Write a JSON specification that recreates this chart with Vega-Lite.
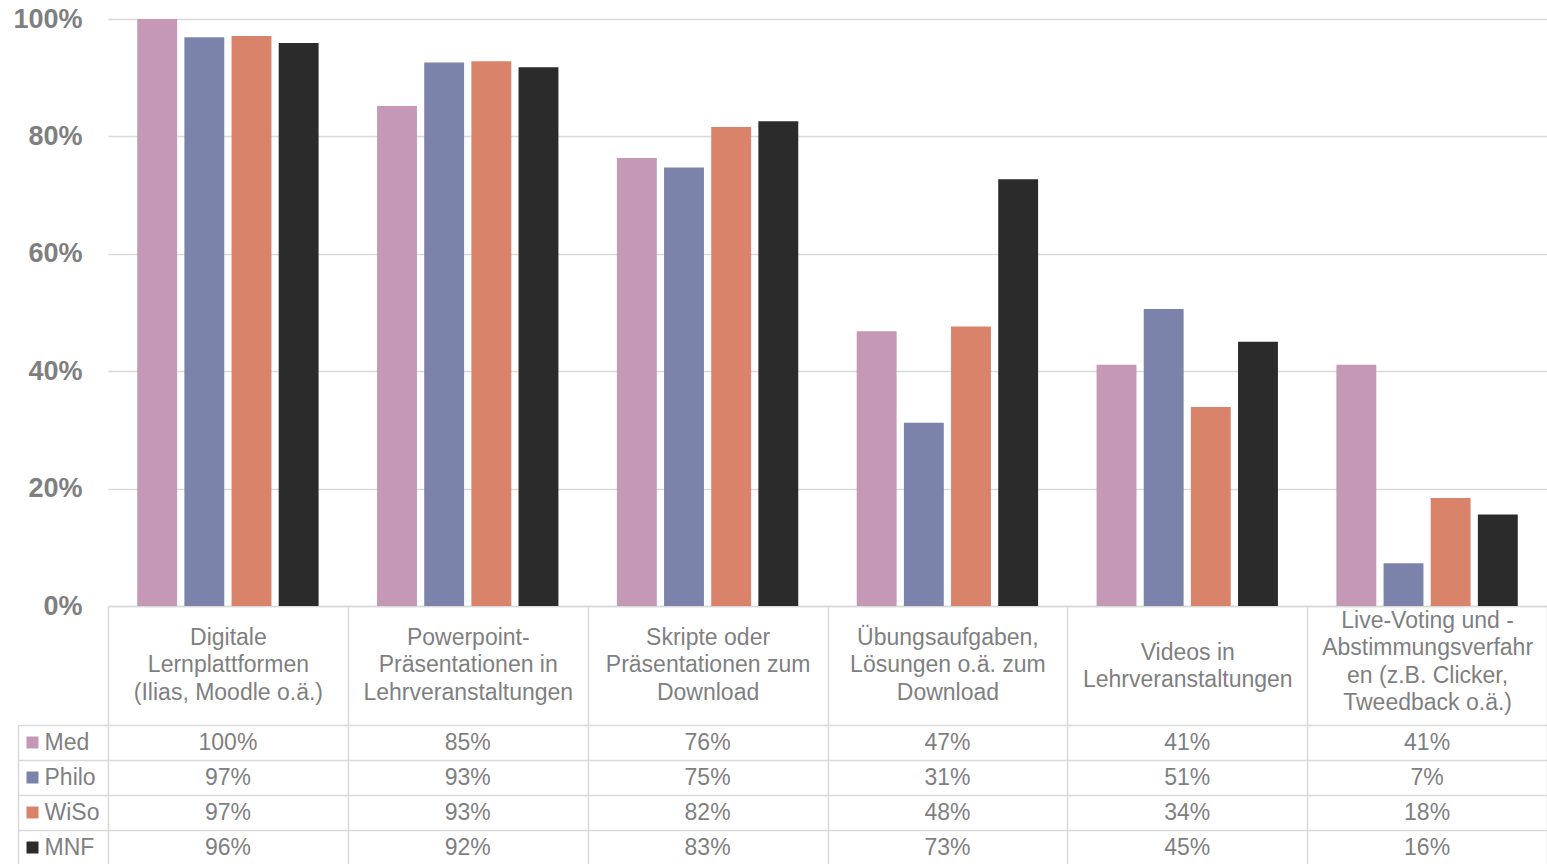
{
  "$schema": "https://vega.github.io/schema/vega-lite/v6.json",
  "padding": {"left": 12, "top": 5, "right": 0, "bottom": 0},
  "config": {
    "font": "Liberation Sans",
    "view": {"stroke": null},
    "axis": {"gridColor": "#d9d9d9", "gridWidth": 1.5, "domainColor": "#d9d9d9", "tickColor": "#d9d9d9", "domainWidth": 1.5, "tickWidth": 1.5}
  },
  "data": {
    "values": [
      {"cat": "Digitale\nLernplattformen\n(Ilias, Moodle o.ä.)", "series": "Med", "value": 1.0},
      {"cat": "Digitale\nLernplattformen\n(Ilias, Moodle o.ä.)", "series": "Philo", "value": 0.969},
      {"cat": "Digitale\nLernplattformen\n(Ilias, Moodle o.ä.)", "series": "WiSo", "value": 0.971},
      {"cat": "Digitale\nLernplattformen\n(Ilias, Moodle o.ä.)", "series": "MNF", "value": 0.959},
      {"cat": "Powerpoint-\nPräsentationen in\nLehrveranstaltungen", "series": "Med", "value": 0.852},
      {"cat": "Powerpoint-\nPräsentationen in\nLehrveranstaltungen", "series": "Philo", "value": 0.926},
      {"cat": "Powerpoint-\nPräsentationen in\nLehrveranstaltungen", "series": "WiSo", "value": 0.928},
      {"cat": "Powerpoint-\nPräsentationen in\nLehrveranstaltungen", "series": "MNF", "value": 0.918},
      {"cat": "Skripte oder\nPräsentationen zum\nDownload", "series": "Med", "value": 0.763},
      {"cat": "Skripte oder\nPräsentationen zum\nDownload", "series": "Philo", "value": 0.747},
      {"cat": "Skripte oder\nPräsentationen zum\nDownload", "series": "WiSo", "value": 0.816},
      {"cat": "Skripte oder\nPräsentationen zum\nDownload", "series": "MNF", "value": 0.826},
      {"cat": "Übungsaufgaben,\nLösungen o.ä. zum\nDownload", "series": "Med", "value": 0.468},
      {"cat": "Übungsaufgaben,\nLösungen o.ä. zum\nDownload", "series": "Philo", "value": 0.312},
      {"cat": "Übungsaufgaben,\nLösungen o.ä. zum\nDownload", "series": "WiSo", "value": 0.476},
      {"cat": "Übungsaufgaben,\nLösungen o.ä. zum\nDownload", "series": "MNF", "value": 0.727},
      {"cat": "Videos in\nLehrveranstaltungen", "series": "Med", "value": 0.411},
      {"cat": "Videos in\nLehrveranstaltungen", "series": "Philo", "value": 0.506},
      {"cat": "Videos in\nLehrveranstaltungen", "series": "WiSo", "value": 0.339},
      {"cat": "Videos in\nLehrveranstaltungen", "series": "MNF", "value": 0.45},
      {"cat": "Live-Voting und -\nAbstimmungsverfahr\nen (z.B. Clicker,\nTweedback o.ä.)", "series": "Med", "value": 0.411},
      {"cat": "Live-Voting und -\nAbstimmungsverfahr\nen (z.B. Clicker,\nTweedback o.ä.)", "series": "Philo", "value": 0.073},
      {"cat": "Live-Voting und -\nAbstimmungsverfahr\nen (z.B. Clicker,\nTweedback o.ä.)", "series": "WiSo", "value": 0.184},
      {"cat": "Live-Voting und -\nAbstimmungsverfahr\nen (z.B. Clicker,\nTweedback o.ä.)", "series": "MNF", "value": 0.156}
    ]
  },
  "bounds": "flush",
  "spacing": 119,
  "resolve": {"scale": {"x": "independent", "y": "independent", "color": "shared"}},
  "vconcat": [
    {
      "width": 1439,
      "height": 587,
      "mark": {"type": "bar"},
      "encoding": {
        "x": {
          "field": "cat", "type": "nominal",
          "scale": {
            "domain": [
              "Digitale\nLernplattformen\n(Ilias, Moodle o.ä.)",
              "Powerpoint-\nPräsentationen in\nLehrveranstaltungen",
              "Skripte oder\nPräsentationen zum\nDownload",
              "Übungsaufgaben,\nLösungen o.ä. zum\nDownload",
              "Videos in\nLehrveranstaltungen",
              "Live-Voting und -\nAbstimmungsverfahr\nen (z.B. Clicker,\nTweedback o.ä.)"
            ],
            "paddingInner": 0, "paddingOuter": 0
          },
          "axis": {
            "title": null, "labelAngle": 0,
            "labelExpr": "split(datum.label, '\\n')",
            "labelFontSize": 23, "labelColor": "#7f7f7f", "labelLineHeight": 27.5,
            "labelBaseline": "middle",
            "labelPadding": {
              "condition": [
                {"test": "length(split(datum.value, '\\n')) == 4", "value": -105},
                {"test": "length(split(datum.value, '\\n')) == 2", "value": -73}
              ],
              "value": -88
            },
            "labelLimit": 400, "labelOverlap": false,
            "tickBand": "extent", "tickSize": 119, "grid": false
          }
        },
        "xOffset": {
          "field": "series", "type": "nominal",
          "scale": {"domain": ["Med", "Philo", "WiSo", "MNF"], "paddingInner": 0.154, "paddingOuter": 0.62}
        },
        "y": {
          "field": "value", "type": "quantitative",
          "scale": {"domain": [0, 1], "nice": false},
          "axis": {
            "title": null, "values": [0, 0.2, 0.4, 0.6, 0.8, 1], "format": ".0%",
            "labelFontSize": 27, "labelFontWeight": "bold", "labelColor": "#7f7f7f",
            "labelPadding": 26, "domain": false, "ticks": false
          }
        },
        "color": {
          "field": "series", "type": "nominal",
          "scale": {"domain": ["Med", "Philo", "WiSo", "MNF"], "range": ["#C598B6", "#7B83AB", "#D9846A", "#2B2B2B"]},
          "legend": null
        }
      }
    },
    {
      "width": 1439,
      "height": 140,
      "layer": [
        {
          "mark": {"type": "text", "fontSize": 23, "color": "#7f7f7f", "baseline": "middle"},
          "encoding": {
            "x": {
              "field": "cat", "type": "nominal",
              "scale": {
                "domain": [
                  "Digitale\nLernplattformen\n(Ilias, Moodle o.ä.)",
                  "Powerpoint-\nPräsentationen in\nLehrveranstaltungen",
                  "Skripte oder\nPräsentationen zum\nDownload",
                  "Übungsaufgaben,\nLösungen o.ä. zum\nDownload",
                  "Videos in\nLehrveranstaltungen",
                  "Live-Voting und -\nAbstimmungsverfahr\nen (z.B. Clicker,\nTweedback o.ä.)"
                ],
                "paddingInner": 0, "paddingOuter": 0
              },
              "axis": {"title": null, "labels": false, "ticks": false, "domain": false, "grid": true, "tickBand": "extent"}
            },
            "y": {
              "field": "series", "type": "nominal",
              "scale": {"domain": ["Med", "Philo", "WiSo", "MNF"], "paddingInner": 0, "paddingOuter": 0},
              "axis": {
                "title": null, "offset": 90, "tickSize": -90, "tickBand": "extent",
                "labelAlign": "left", "labelPadding": 64, "labelBaseline": "middle",
                "labelFontSize": 23, "labelColor": "#7f7f7f", "grid": true
              }
            },
            "text": {"field": "value", "type": "quantitative", "format": ".0%"}
          }
        },
        {
          "transform": [{"filter": {"field": "cat", "equal": "Digitale\nLernplattformen\n(Ilias, Moodle o.ä.)"}}],
          "mark": {"type": "square", "size": 144, "opacity": 1, "xOffset": -75.5},
          "encoding": {
            "x": {"field": "cat", "type": "nominal", "bandPosition": 0},
            "y": {"field": "series", "type": "nominal"},
            "color": {"field": "series", "type": "nominal", "legend": null}
          }
        }
      ]
    }
  ]
}
